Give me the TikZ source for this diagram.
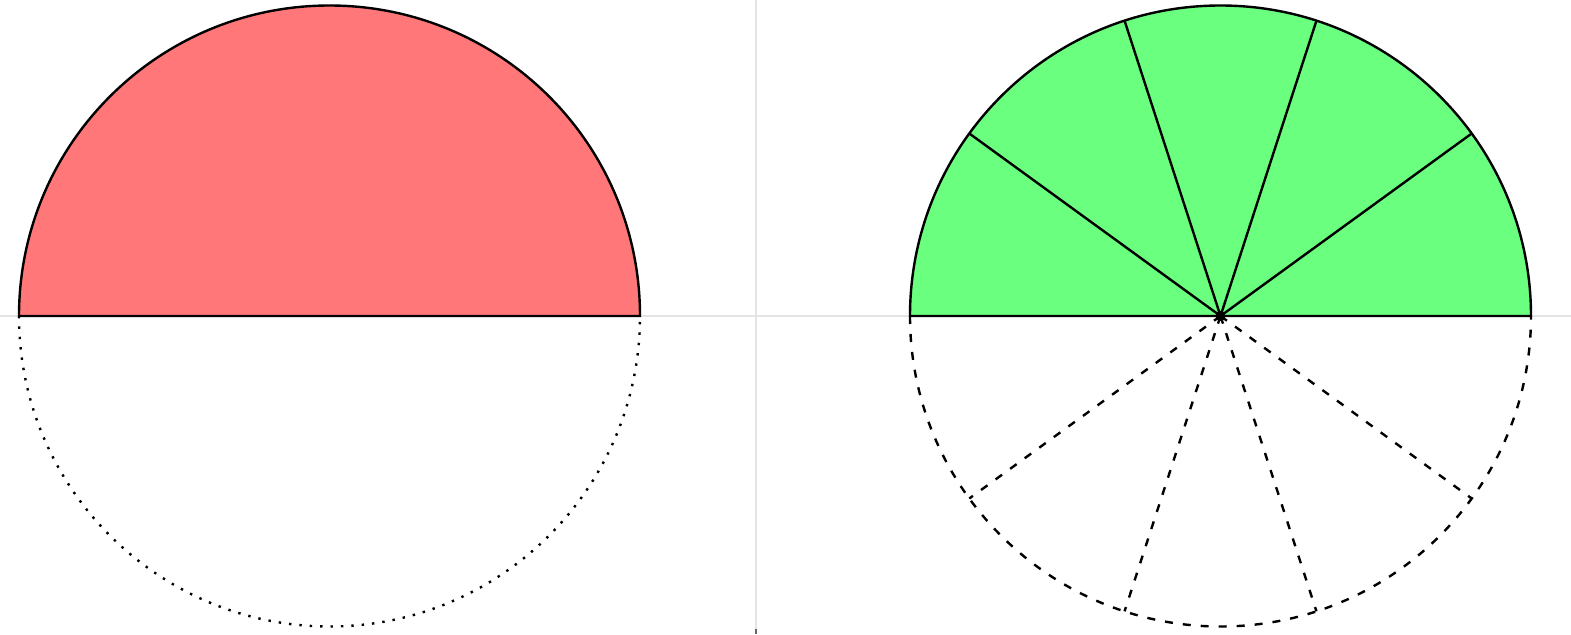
\documentclass[tikz,border=0pt]{standalone}
\usepackage{xcolor}
\definecolor{HalfRed}{RGB}{255,119,120}
\definecolor{HalfGreen}{RGB}{106,255,126}
\definecolor{GridGrey}{RGB}{228,228,228}

\begin{document}
\begin{tikzpicture}[
x=0.5pt,y=0.5pt,
rim/.style={line width=1.2pt,draw=black},
dotrim/.style={line width=1.2pt,draw=black,dash pattern=on 1.2pt off 4pt},
dashrim/.style={line width=1.2pt,draw=black,dash pattern=on 4pt off 5pt},
axisline/.style={line width=1pt,draw=GridGrey}
]
\useasboundingbox (0,0) rectangle (1571,634);
\coordinate (L) at (329.5,318);
\coordinate (R) at (1220.5,318);
% grid lines
\draw[axisline] (0,318) -- (1571,318);
\draw[axisline] (756,0) -- (756,634);
\draw[line width=1pt,draw=black!60] (756,0) -- (756,5);
% left: half disc
\fill[HalfRed] (L) ++(310.5,0) arc (0:180:310.5) -- cycle;
\draw[rim] (L) ++(310.5,0) arc (0:180:310.5) -- cycle;
\draw[dotrim] (L) ++(-310.5,0) arc (180:360:310.5);
% right: five sectors
\fill[HalfGreen] (R) ++(310.5,0) arc (0:180:310.5) -- cycle;
\foreach \a in {36,72,108,144} {
  \draw[rim] (R) -- ++(\a:310.5);
  \draw[dashrim] (R) -- ++(\a+180:310.5);
}
\draw[rim] (R) ++(310.5,0) arc (0:180:310.5) -- cycle;
\draw[dashrim] (R) ++(-310.5,0) arc (180:360:310.5);
\fill (R) circle (5);
\end{tikzpicture}
\end{document}
